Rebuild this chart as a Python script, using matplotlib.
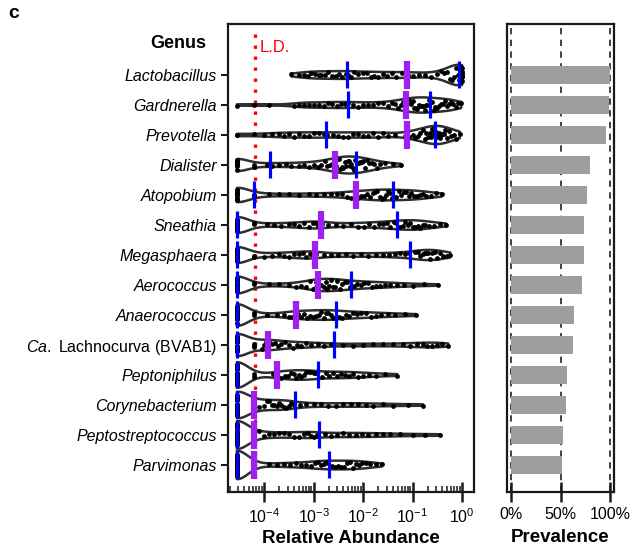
import numpy as np
import matplotlib
matplotlib.use('Agg')
import matplotlib.pyplot as plt
from matplotlib.ticker import LogLocator, FixedLocator, NullFormatter

plt.rcParams['font.family'] = ['Liberation Sans', 'DejaVu Sans']
plt.rcParams['mathtext.fontset'] = 'custom'
plt.rcParams['mathtext.rm'] = 'Liberation Sans'
plt.rcParams['mathtext.it'] = 'Liberation Sans:italic'
plt.rcParams['mathtext.bf'] = 'Liberation Sans:bold'

# ---------------- data ----------------
genera = ['Lactobacillus', 'Gardnerella', 'Prevotella', 'Dialister', 'Atopobium',
          'Sneathia', 'Megasphaera', 'Aerococcus', 'Anaerococcus',
          'Ca. Lachnocurva (BVAB1)', 'Peptoniphilus', 'Corynebacterium',
          'Peptostreptococcus', 'Parvimonas']
prevalence = [1.00, 0.99, 0.96, 0.80, 0.77, 0.74, 0.74, 0.72, 0.64, 0.63,
              0.57, 0.56, 0.53, 0.52]
n_samples = 60
zero_log = -4.55          # where undetected samples are drawn (log10)
ld_log = -4.2             # samples detected at the limit of detection (log10)
ld_line_log = -4.18       # limit of detection line (log10)
n_at_ld = [0, 1, 1, 2, 3, 2, 2, 2, 2, 3, 2, 5, 3, 2]

# detected log10 relative abundances above the limit of detection
lactobacillus = [-3.45, -3.3, -3.2, -3.12, -3.05, -2.98, -2.9, -2.85, -2.78, -2.7, -2.62, -2.55, -2.48, -2.42, -2.35,
                 -2.31, -2.25, -2.18, -2.1, -2.0, -1.92, -1.85, -1.78, -1.7, -1.6, -1.52, -1.42, -1.33, -1.22, -1.14,
                 -1.10, -1.0, -0.88, -0.75, -0.62, -0.5, -0.42, -0.36, -0.3, -0.25, -0.2, -0.16, -0.12, -0.09, -0.07,
                 -0.04, -0.035, -0.03, -0.025, -0.02, -0.02, -0.015, -0.012, -0.01, -0.008, -0.006, -0.005, -0.004, -0.003, 0.0]
gardnerella = [-3.9, -3.4, -3.3, -3.2, -3.1, -3.0, -2.9, -2.8, -2.7, -2.62, -2.52, -2.45, -2.36,
               -2.30, -2.2, -2.1, -2.0, -1.9, -1.8, -1.7, -1.6, -1.5, -1.42, -1.35, -1.3, -1.24, -1.19, -1.15,
               -1.11, -1.07, -1.03, -1.0, -0.97, -0.94, -0.91, -0.88, -0.85, -0.82, -0.79, -0.76, -0.73, -0.70, -0.67,
               -0.6, -0.57, -0.54, -0.5, -0.46, -0.42, -0.38, -0.34, -0.3, -0.26, -0.22, -0.18, -0.13, -0.08, -0.02]
prevotella = [-4.0, -3.85, -3.7, -3.6, -3.5, -3.4, -3.3, -3.2, -3.1, -3.0, -2.9, -2.8,
              -2.72, -2.6, -2.5, -2.4, -2.3, -2.2, -2.1, -2.0, -1.9, -1.8, -1.7, -1.6, -1.5, -1.35, -1.15,
              -1.07, -1.0, -0.95, -0.9, -0.85, -0.8, -0.76, -0.72, -0.68, -0.65, -0.62, -0.6, -0.58, -0.57, -0.56,
              -0.52, -0.5, -0.48, -0.46, -0.44, -0.42, -0.4, -0.37, -0.34, -0.3, -0.26, -0.22, -0.17, -0.12, -0.05]
dialister = [-3.95,
             -3.85, -3.7, -3.55, -3.45, -3.3, -3.2, -3.1, -3.0, -2.92, -2.85, -2.78, -2.72, -2.67, -2.62, -2.59,
             -2.55, -2.52, -2.49, -2.46, -2.43, -2.4, -2.37, -2.34, -2.31, -2.29, -2.27, -2.24, -2.21, -2.19, -2.16,
             -2.12, -2.09, -2.06, -2.03, -2.0, -1.96, -1.92, -1.88, -1.83, -1.78, -1.72, -1.65, -1.55, -1.4, -1.24]
atopobium = [-3.9, -3.7, -3.5, -3.3, -3.1, -2.95, -2.8, -2.65, -2.52, -2.42, -2.32, -2.24, -2.17,
             -2.11, -2.05, -1.99, -1.93, -1.87, -1.81, -1.76, -1.71, -1.66, -1.62, -1.58, -1.54, -1.5, -1.46, -1.41,
             -1.33, -1.28, -1.23, -1.18, -1.13, -1.08, -1.03, -0.98, -0.92, -0.86, -0.8, -0.72, -0.63, -0.53, -0.41]
sneathia = [-3.95, -3.8, -3.65, -3.5, -3.4, -3.3, -3.2, -3.1, -3.02, -2.96, -2.91, -2.87,
            -2.83, -2.7, -2.55, -2.4, -2.25, -2.1, -1.98, -1.88, -1.78, -1.68, -1.6, -1.52, -1.45, -1.38, -1.33,
            -1.25, -1.2, -1.15, -1.1, -1.05, -1.0, -0.95, -0.9, -0.85, -0.8, -0.74, -0.66, -0.56, -0.45, -0.32]
megasphaera = [-4.0, -3.85, -3.7, -3.6, -3.5, -3.4, -3.3, -3.22, -3.15, -3.08, -3.03, -3.0,
               -2.96, -2.8, -2.65, -2.5, -2.35, -2.2, -2.05, -1.9, -1.75, -1.6, -1.48, -1.36, -1.25, -1.15, -1.08,
               -0.96, -0.9, -0.85, -0.8, -0.76, -0.72, -0.68, -0.64, -0.6, -0.55, -0.5, -0.44, -0.38, -0.31, -0.24]
aerococcus = [-3.9, -3.7, -3.5, -3.35, -3.25, -3.15, -3.08, -3.02, -2.98, -2.95, -2.93,
              -2.89, -2.85, -2.8, -2.76, -2.72, -2.68, -2.64, -2.6, -2.56, -2.52, -2.47, -2.42, -2.37, -2.32, -2.27,
              -2.19, -2.12, -2.05, -1.98, -1.9, -1.82, -1.74, -1.65, -1.55, -1.45, -1.32, -1.18, -1.0, -0.78, -0.49]
anaerococcus = [-3.95, -3.75, -3.6, -3.5, -3.43, -3.38,
                -3.32, -3.26, -3.2, -3.14, -3.08, -3.02, -2.96, -2.9, -2.85, -2.8, -2.75, -2.7, -2.65, -2.61, -2.57,
                -2.49, -2.42, -2.35, -2.28, -2.2, -2.12, -2.04, -1.95, -1.85, -1.75, -1.63, -1.5, -1.35, -1.15, -0.93]
lachnocurva = [-4.05, -4.0, -3.97, -3.95, -3.93,
               -3.91, -3.85, -3.78, -3.72, -3.65, -3.58, -3.5, -3.42, -3.34, -3.25, -3.15, -3.05, -2.92, -2.8, -2.65,
               -2.41, -2.2, -2.0, -1.8, -1.6, -1.4, -1.2, -1.05, -0.92, -0.8, -0.7, -0.6, -0.5, -0.4, -0.28]
peptoniphilus = [-3.82, -3.77,
                 -3.71, -3.65, -3.58, -3.52, -3.46, -3.4, -3.35, -3.3, -3.25, -3.2, -3.15, -3.1, -3.05, -3.0, -2.95,
                 -2.83, -2.75, -2.68, -2.6, -2.52, -2.44, -2.36, -2.28, -2.2, -2.1, -2.0, -1.88, -1.74, -1.55, -1.31]
corynebacterium = [-4.1, -4.0, -3.95, -3.9, -3.85, -3.8, -3.75, -3.7, -3.65, -3.6, -3.55, -3.5, -3.45, -3.4,
                   -3.28, -3.15, -3.0, -2.85, -2.7, -2.55, -2.4, -2.25, -2.1, -1.95, -1.8, -1.6, -1.4, -1.1, -0.79]
peptostreptococcus = [-4.1, -4.0, -3.9, -3.8, -3.7, -3.6, -3.5, -3.4, -3.3, -3.2, -3.12, -3.05, -2.99, -2.94,
                      -2.78, -2.65, -2.52, -2.4, -2.28, -2.15, -2.02, -1.9, -1.75, -1.6, -1.45, -1.25, -1.0, -0.75, -0.44]
parvimonas = [-3.9, -3.75, -3.6, -3.48, -3.36, -3.25, -3.15, -3.06, -2.98, -2.91, -2.85, -2.79, -2.74, -2.7,
              -2.62, -2.56, -2.5, -2.44, -2.38, -2.32, -2.26, -2.2, -2.14, -2.08, -2.02, -1.95, -1.86, -1.75, -1.62]

detected = [lactobacillus, gardnerella, prevotella, dialister, atopobium, sneathia,
            megasphaera, aerococcus, anaerococcus, lachnocurva, peptoniphilus,
            corynebacterium, peptostreptococcus, parvimonas]

# ---------------- build per-genus samples ----------------
samples = []
for p, nld, det in zip(prevalence, n_at_ld, detected):
    n0 = int(round(n_samples * (1 - p)))
    vals = np.sort(np.array([zero_log] * n0 + [ld_log] * nld + list(det), dtype=float))
    samples.append(vals)

bw = 0.22
def kde(vals, grid):
    d = (grid[:, None] - vals[None, :]) / bw
    return np.exp(-0.5 * d ** 2).sum(axis=1) / (len(vals) * bw * np.sqrt(2 * np.pi))

grids, dens = [], []
for vals in samples:
    g = np.linspace(vals.min(), vals.max(), 400)
    grids.append(g)
    dens.append(kde(vals, g))
dmax = max(d.max() for d in dens)
max_half = 0.47

# ---------------- figure ----------------
fig = plt.figure(figsize=(6.33, 5.47), dpi=100)
W, H = 633, 547
ax = fig.add_axes([228 / W, 1 - 492 / H, 246 / W, 468 / H])
axp = fig.add_axes([507 / W, 1 - 492 / H, 107 / W, 468 / H])

spine_col = '#1a1a1a'
pos = np.arange(len(genera))

ax.set_xscale('log')
ax.set_xlim(10 ** -4.73, 10 ** 0.24)
ax.set_ylim(13.9, -1.7)

# L.D. line
ax.vlines(10 ** ld_line_log, -1.35, 13.55, colors='red', lw=2.4,
          linestyles=(0, (1, 2.3)), zorder=1)
ax.text(10 ** -4.1, -0.93, 'L.D.', color='red', fontsize=12, va='center', ha='left')

for i, (vals, g, d) in enumerate(zip(samples, grids, dens)):
    w = max_half * d / dmax
    ax.fill_between(10 ** g, i - w, i + w, facecolor='none', edgecolor='#2e2e2e',
                    lw=1.8, zorder=2)
    # sina-style jitter of points inside the violin (deterministic hash offsets)
    wi = np.interp(vals, g, w)
    k = np.arange(len(vals)) + 1.0
    u = np.modf(np.abs(np.sin(k * 12.9898 + (i + 1) * 78.233) * 43758.5453))[0] * 2 - 1
    ax.scatter(10 ** vals, i + 0.8 * u * np.maximum(wi, 0.04), s=12, c='black', lw=0, zorder=3)
    q1, med, q3 = np.percentile(vals, [25, 50, 75])
    ax.vlines(10 ** med, i - 0.46, i + 0.46, colors='#A020F0', lw=4.5, zorder=4)
    ax.vlines([10 ** q1, 10 ** q3], i - 0.45, i + 0.45, colors='#0000FF', lw=2.3, zorder=5)

ax.set_yticks(pos)
ylabels = []
for gname in genera:
    if gname.startswith('Ca. '):
        ylabels.append(r'$\mathit{Ca.}$ ' + gname[4:])
    else:
        ylabels.append(gname)
ax.set_yticklabels(ylabels, fontsize=11.5)
for lab, gname in zip(ax.get_yticklabels(), genera):
    if not gname.startswith('Ca. '):
        lab.set_fontstyle('italic')

ax.xaxis.set_major_locator(FixedLocator([1e-4, 1e-3, 1e-2, 1e-1, 1e0]))
ax.xaxis.set_minor_locator(LogLocator(base=10, subs=np.arange(2, 10), numticks=20))
ax.xaxis.set_minor_formatter(NullFormatter())
ax.tick_params(axis='x', which='major', direction='inout', length=14, width=1.8,
               labelsize=11.5, pad=4, color=spine_col)
ax.tick_params(axis='x', which='minor', direction='in', length=4, width=1.1, color=spine_col)
ax.tick_params(axis='y', which='major', direction='out', length=5, width=1.5, pad=3, color=spine_col)
for s in ax.spines.values():
    s.set_linewidth(1.6)
    s.set_color(spine_col)
ax.set_xlabel('Relative Abundance', fontsize=13.5, fontweight='bold', labelpad=3)

# ---------------- prevalence panel ----------------
axp.barh(pos, prevalence, height=0.6, color='#9e9e9e', zorder=2)
for xv in [0, 0.5, 1.0]:
    axp.axvline(xv, color='#333333', lw=1.3, linestyle=(0, (3.5, 3.0)), zorder=1)
axp.set_xlim(-0.04, 1.04)
axp.set_ylim(13.9, -1.7)
axp.set_yticks([])
axp.set_xticks([0, 0.5, 1.0])
axp.set_xticklabels(['0%', '50%', '100%'])
axp.tick_params(axis='x', which='major', direction='inout', length=14, width=1.8,
                labelsize=11.5, pad=4, color=spine_col)
for s in axp.spines.values():
    s.set_linewidth(1.6)
    s.set_color(spine_col)
axp.set_xlabel('Prevalence', fontsize=13.5, fontweight='bold', labelpad=5)

fig.text(178 / W, 1 - 43 / H, 'Genus', ha='center', va='center', fontsize=13, fontweight='bold')
fig.text(8 / W, 1 - 13 / H, 'c', ha='left', va='center', fontsize=14, fontweight='bold')

fig.savefig('out.png', dpi=100)
